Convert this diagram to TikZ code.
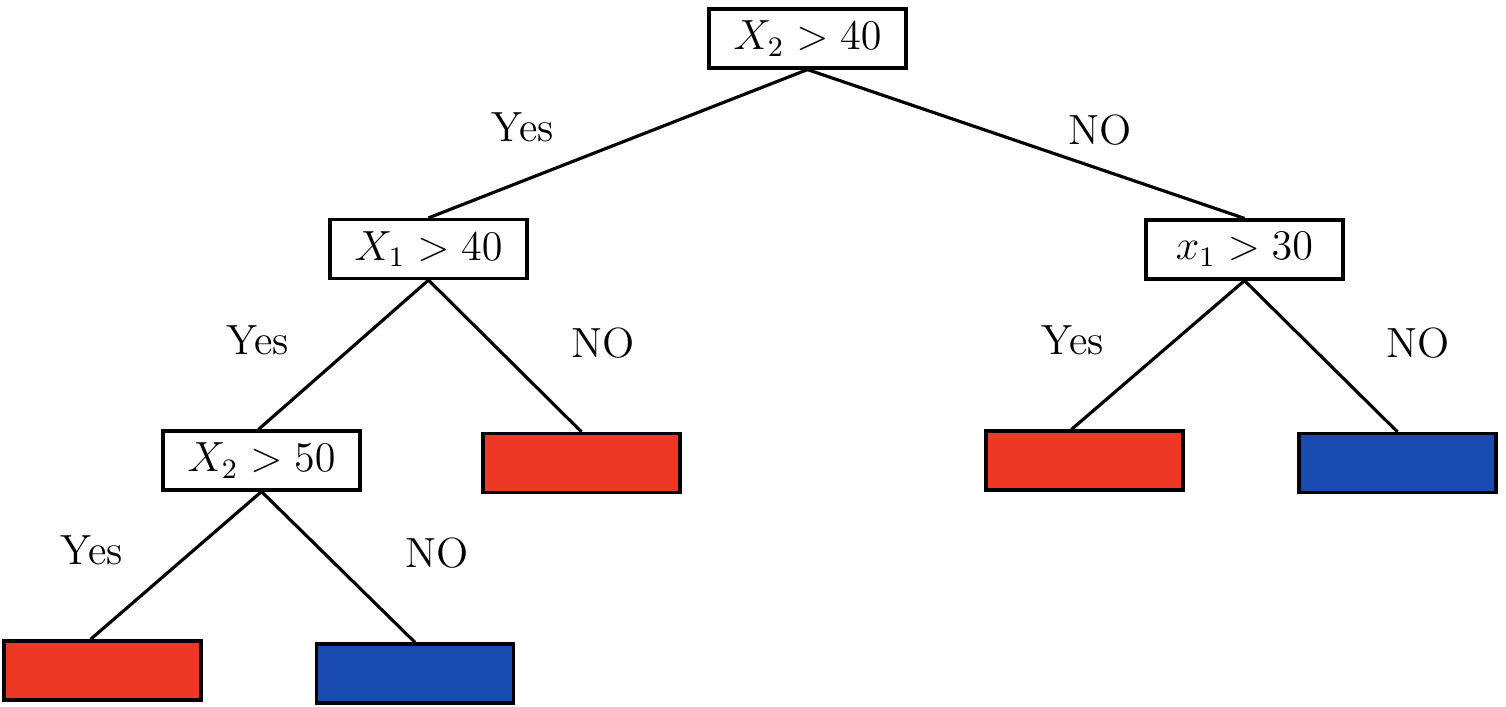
\documentclass[tikz,border=0pt]{standalone}
\usepackage{tikz}
\definecolor{LeafR}{RGB}{237,56,36}
\definecolor{LeafB}{RGB}{24,74,176}

\begin{document}
\begin{tikzpicture}[x=0.01cm,y=-0.01cm,
    split/.style={draw,line width=0.9pt,fill=white,minimum width=1.97cm,
      minimum height=0.59cm,inner sep=0pt,font=\large},
    leaf/.style={draw,line width=0.9pt,minimum width=1.97cm,minimum height=0.59cm},
    edge/.style={line width=0.9pt},
    ans/.style={font=\large}]
  \useasboundingbox (0,0) rectangle (1506,707);
  % splits
  \node[split] (root) at (807.5,38.5) {$X_2>40$};
  \node[split] (sL) at (428.5,249) {$X_1>40$};
  \node[split] (sR) at (1244.5,249.5) {$x_1>30$};
  \node[split] (sLL) at (261.5,460.5) {$X_2>50$};
  % leaves
  \node[leaf,fill=LeafR] (lLR) at (581.5,463) {};
  \node[leaf,fill=LeafR] (lRL) at (1084.5,460.5) {};
  \node[leaf,fill=LeafB] (lRR) at (1397.5,463) {};
  \node[leaf,fill=LeafR] (lLLL) at (102.5,670.5) {};
  \node[leaf,fill=LeafB] (lLLR) at (415,673.5) {};
  % branches
  \draw[edge] (root.south) -- (sL.north);
  \draw[edge] (root.south) -- (sR.north);
  \draw[edge] (sL.south) -- ([xshift=-0.03cm]sLL.north);
  \draw[edge] (sL.south) -- (lLR.north);
  \draw[edge] (sR.south) -- ([xshift=-0.13cm]lRL.north);
  \draw[edge] (sR.south) -- (lRR.north);
  \draw[edge] (sLL.south) -- ([xshift=-0.12cm]lLLL.north);
  \draw[edge] (sLL.south) -- (lLLR.north);
  % answers
  \node[ans] (aRootY) at (523,127) {Yes};
  \node[ans] (aRootN) at (1100,130) {NO};
  \node[ans] (aLY) at (258,340) {Yes};
  \node[ans] (aLN) at (603,343) {NO};
  \node[ans] (aRY) at (1073,340) {Yes};
  \node[ans] (aRN) at (1418,343) {NO};
  \node[ans] (aLLY) at (92,550) {Yes};
  \node[ans] (aLLN) at (437,553) {NO};
\end{tikzpicture}
\end{document}
